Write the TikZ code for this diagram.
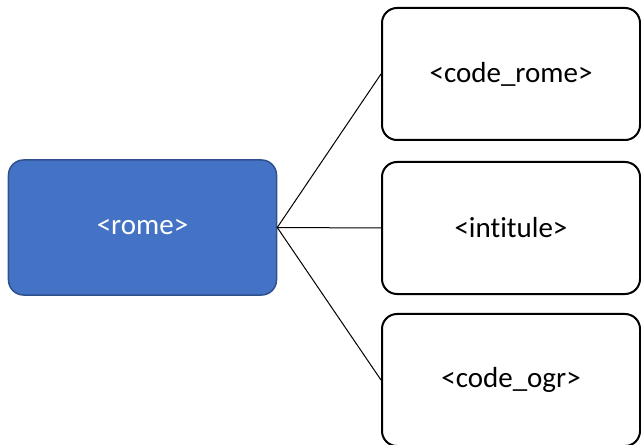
\documentclass[tikz,border=0pt]{standalone}
\usepackage{fontspec}
\setmainfont[Ligatures=NoCommon]{Carlito}
\definecolor{mainblue}{HTML}{4472C4}
\definecolor{mainborder}{HTML}{2F528F}
\begin{document}
\begin{tikzpicture}[x=1bp,y=-1bp,
  rootbox/.style={draw=mainborder,fill=mainblue,line width=1.5bp,rounded corners=15bp,
    minimum width=268bp,minimum height=135bp,inner sep=0pt,text=white,font=\fontsize{29bp}{34bp}\selectfont},
  leafbox/.style={draw=black,fill=white,line width=2bp,rounded corners=15bp,
    minimum width=258bp,minimum height=132bp,inner sep=0pt,text=black,font=\fontsize{29bp}{34bp}\selectfont},
  link/.style={draw=black,line width=1bp}]
\useasboundingbox (0,0) rectangle (641,445);
\node[rootbox] (rome) at (142.5,227.5) {<rome>};
\node[leafbox] (code) at (511,74) {<code\_rome>};
\node[leafbox] (intit) at (511,228) {<intitule>};
\node[leafbox] (ogr) at (511,380) {<code\_ogr>};
\draw[link] (rome.east) -- (code.west);
\draw[link] (rome.east) -- (intit.west);
\draw[link] (rome.east) -- (ogr.west);
\end{tikzpicture}
\end{document}
